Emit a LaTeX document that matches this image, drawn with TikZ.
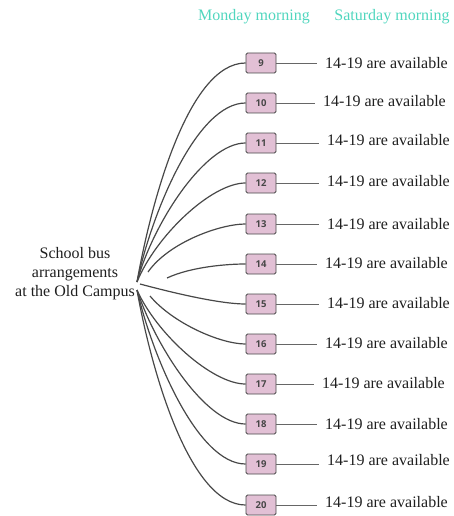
\documentclass[tikz,border=0pt]{standalone}
\usepackage{fontspec}
\setmainfont{Liberation Serif}
\newfontfamily\slotfont{Open Sans}
\usepackage{xcolor}
\definecolor{headteal}{RGB}{80,214,190}
\definecolor{slotpink}{RGB}{226,192,213}
\definecolor{wire}{RGB}{72,72,72}

\begin{document}
\begin{tikzpicture}[x=1pt,y=-1pt,
    slot/.style={draw=wire,line width=0.9pt,fill=slotpink,rounded corners=1.5pt,minimum width=30pt,minimum height=20pt,inner sep=0pt,font=\slotfont\bfseries\fontsize{9.5}{9.5}\selectfont,text=black!72},
    avail/.style={anchor=west,inner sep=0pt,text=black!88,font=\fontsize{16}{16}\selectfont},
    head/.style={text=headteal,font=\fontsize{16}{16}\selectfont},
    branch/.style={draw=wire,line width=1.2pt,in=180,out looseness=0.85,in looseness=0.6},
    tail/.style={draw=black!60,line width=0.7pt,shorten >=8pt}]
            \useasboundingbox (0,0) rectangle (453,516);
            % Column headers
            \node[head] (mon) at (254,17) {Monday morning};
            \node[head] (sat) at (392,17) {Saturday morning};
            % Root text and the points the branches leave from
            \node[align=center,font=\fontsize{16}{19}\selectfont,text=black!88] (campus) at (75,274) {School bus\\arrangements\\at the Old Campus};
            \coordinate (hub) at (137,282);
            \coordinate (hubA) at (148,272);
            \coordinate (hubB) at (167,278);
            \coordinate (hubC) at (140,284);
            \coordinate (hubD) at (150,296);
            \coordinate (hubE) at (137,290);
            % Bus slots
            \node[slot] (b9) at (261,63) {9};
            \node[slot] (b10) at (261,103) {10};
            \node[slot] (b11) at (261,143) {11};
            \node[slot] (b12) at (261,183) {12};
            \node[slot] (b13) at (261,224) {13};
            \node[slot] (b14) at (261,264) {14};
            \node[slot] (b15) at (261,304) {15};
            \node[slot] (b16) at (261,344) {16};
            \node[slot] (b17) at (261,384) {17};
            \node[slot] (b18) at (261,424) {18};
            \node[slot] (b19) at (261,464) {19};
            \node[slot] (b20) at (261,505) {20};
            % Branches from the root to the slots
            \draw[branch] (hub) to[out=80] (b9.west);
            \draw[branch] (hub) to[out=78] (b10.west);
            \draw[branch] (hub) to[out=75] (b11.west);
            \draw[branch] (hub) to[out=68] (b12.west);
            \draw[branch] (hubA) to[out=55] (b13.west);
            \draw[branch] (hubB) to[out=25] (b14.west);
            \draw[branch] (hubC) to[out=-15] (b15.west);
            \draw[branch] (hubD) to[out=-50] (b16.west);
            \draw[branch] (hubE) to[out=-66] (b17.west);
            \draw[branch] (hubE) to[out=-72] (b18.west);
            \draw[branch] (hubE) to[out=-77] (b19.west);
            \draw[branch] (hubE) to[out=-80] (b20.west);
            % Saturday availability
            \node[avail] (s9) at (325,63) {14-19 are available};
            \node[avail] (s10) at (323,101) {14-19 are available};
            \node[avail] (s11) at (327,140) {14-19 are available};
            \node[avail] (s12) at (327,181) {14-19 are available};
            \node[avail] (s13) at (327,224) {14-19 are available};
            \node[avail] (s14) at (325,263) {14-19 are available};
            \node[avail] (s15) at (327,303) {14-19 are available};
            \node[avail] (s16) at (325,343) {14-19 are available};
            \node[avail] (s17) at (322,383) {14-19 are available};
            \node[avail] (s18) at (325,424) {14-19 are available};
            \node[avail] (s19) at (327,460) {14-19 are available};
            \node[avail] (s20) at (325,502) {14-19 are available};
            % Wires from the slots to the texts
            \draw[tail] (b9.east) -- (s9.west |- b9.east);
            \draw[tail] (b10.east) -- (s10.west |- b10.east);
            \draw[tail] (b11.east) -- (s11.west |- b11.east);
            \draw[tail] (b12.east) -- (s12.west |- b12.east);
            \draw[tail] (b13.east) -- (s13.west |- b13.east);
            \draw[tail] (b14.east) -- (s14.west |- b14.east);
            \draw[tail] (b15.east) -- (s15.west |- b15.east);
            \draw[tail] (b16.east) -- (s16.west |- b16.east);
            \draw[tail] (b17.east) -- (s17.west |- b17.east);
            \draw[tail] (b18.east) -- (s18.west |- b18.east);
            \draw[tail] (b19.east) -- (s19.west |- b19.east);
            \draw[tail] (b20.east) -- (s20.west |- b20.east);
        \end{tikzpicture}
\end{document}
